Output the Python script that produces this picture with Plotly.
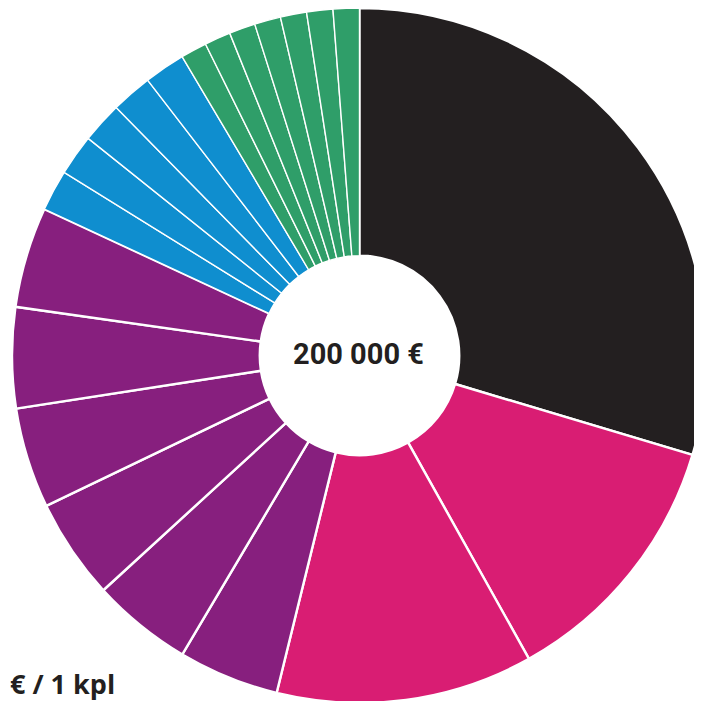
import plotly.graph_objects as go

# Data (euros per slice)
labels = ["A",
          "B1", "B2",
          "C1", "C2", "C3", "C4", "C5", "C6",
          "D1", "D2", "D3", "D4", "D5",
          "E1", "E2", "E3", "E4", "E5", "E6", "E7"]
values = [62000,
          25700, 25000,
          9800, 9800, 9800, 9800, 9800, 9800,
          4000, 4000, 4000, 4000, 4000,
          2550, 2550, 2550, 2550, 2550, 2550, 2550]
groups = ["black"] + ["pink"] * 2 + ["purple"] * 6 + ["blue"] * 5 + ["green"] * 7
center_text = "200 000 €"
unit_text = "€ / 1 kpl"

palette = {"black": "#231f20", "pink": "#d91d73", "purple": "#871f7e",
           "blue": "#0f8ecf", "green": "#2f9e69"}
line_w = {"black": 2.4, "pink": 2.4, "purple": 2.4, "blue": 1.4, "green": 1.4}

W, H = 702, 701

fig = go.Figure(go.Pie(
    labels=labels,
    values=values,
    sort=False,
    direction="clockwise",
    rotation=0,
    hole=0.287,
    marker=dict(colors=[palette[g] for g in groups],
                line=dict(color="white", width=[line_w[g] for g in groups])),
    textinfo="none",
    hoverinfo="skip",
    showlegend=False,
    domain=dict(x=[4 / W, 699 / W], y=[1 - 695 / H, 1]),
))

fig.add_annotation(text=center_text, x=350 / W, y=1 - 345.5 / H, xref="paper", yref="paper",
                   xanchor="center", yanchor="middle", showarrow=False,
                   font=dict(family="Roboto", size=29, color="#231f20", weight=700))
fig.add_annotation(text=unit_text, x=0, y=1 - 675 / H, xref="paper", yref="paper",
                   xanchor="left", yanchor="middle", showarrow=False,
                   font=dict(family="Open Sans", size=27, color="#231f20", weight=700))

fig.update_layout(width=W, height=H, margin=dict(l=0, r=0, t=0, b=0),
                  paper_bgcolor="white", plot_bgcolor="white")

fig.write_html("out.html")
